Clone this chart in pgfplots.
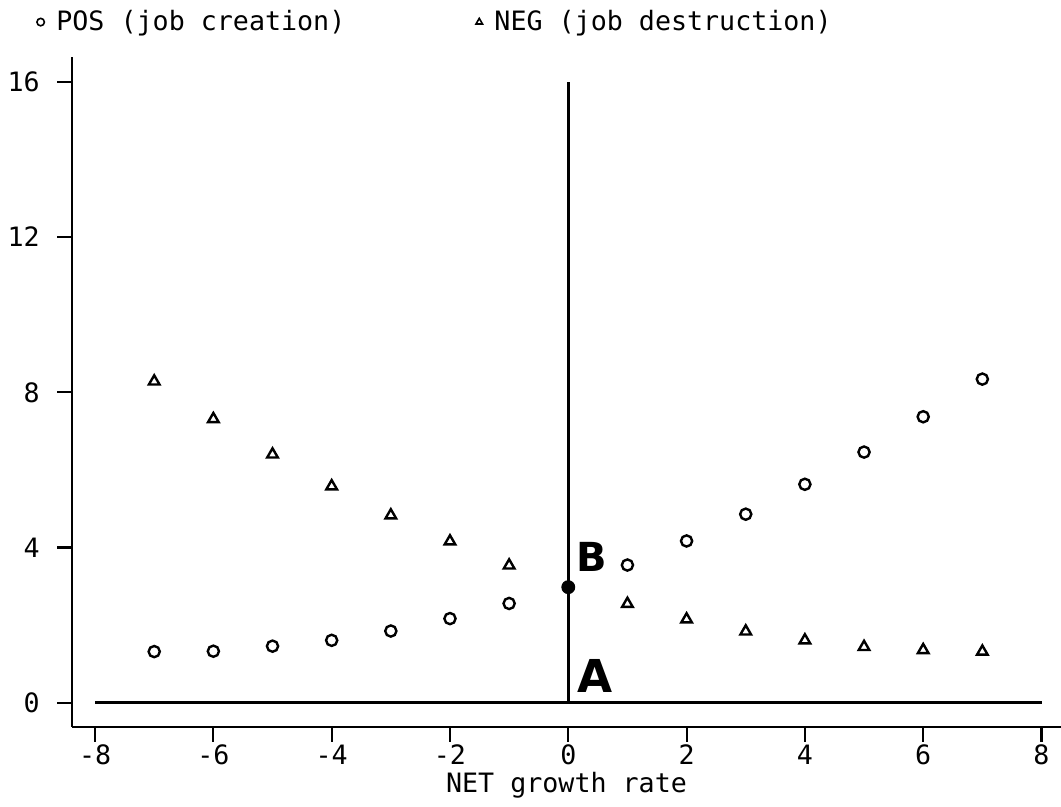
\documentclass[border=0pt]{standalone}
\usepackage{fontspec}
\setmainfont{DejaVu Sans Mono}
\newfontfamily\hand{DejaVu Sans}
\usepackage{pgfplots}
\pgfplotsset{compat=1.18}
\begin{document}
\begin{tikzpicture}
\useasboundingbox (-27pt,-30pt) rectangle (370.9pt,272.6pt);
\begin{axis}[
  at={(0pt,0pt)}, anchor=south west,
  scale only axis, width=370.9pt, height=251.25pt,
  xmin=-8.39, xmax=8.33, ymin=-0.62, ymax=16.64,
  axis lines=left, axis line style={-, line width=0.9pt},
  xtick={-8,-6,...,8}, ytick={0,4,8,12,16},
  tick align=outside, major tick length=5.6pt,
  tick style={line width=0.8pt, black},
  minor tick num=0,
  /pgf/number format/assume math mode=true,
  ticklabel style={font=\fontsize{10}{12}\selectfont},
  yticklabel style={xshift=-3pt},
  xticklabel style={yshift=2.5pt},
  xlabel={NET growth rate},
  xlabel style={font=\fontsize{10}{12}\selectfont, yshift=4pt},
  legend columns=2,
  legend cell align=left,
  legend style={at={(axis description cs:-0.036,1.052)}, anchor=west, draw=none, fill=none,
    font=\fontsize{10}{12}\selectfont, inner sep=0pt,
    /tikz/every odd column/.append style={column sep=2.5pt},
    /tikz/every even column/.append style={column sep=47pt}},
  legend image code/.code={\draw[mark size=1.4pt, line width=0.6pt] plot coordinates {(0.12cm,0cm)};},
]
\addplot[only marks, mark=o, mark size=2.1pt, line width=0.9pt] coordinates {
(-7,1.32) (-6,1.33) (-5,1.46) (-4,1.61) (-3,1.85) (-2,2.17) (-1,2.56)
(1,3.55) (2,4.17) (3,4.86) (4,5.63) (5,6.46) (6,7.37) (7,8.34)};
\addlegendentry{POS (job creation)}
\addplot[only marks, mark=triangle, mark size=2.3pt, line width=0.9pt] coordinates {
(-7,8.28) (-6,7.31) (-5,6.40) (-4,5.58) (-3,4.83) (-2,4.16) (-1,3.54)
(1,2.55) (2,2.15) (3,1.84) (4,1.61) (5,1.44) (6,1.36) (7,1.32)};
\addlegendentry{NEG (job destruction)}
\addplot[black, line width=1pt, forget plot] coordinates {(-8,0) (8,0)};
\addplot[black, line width=1pt, forget plot] coordinates {(0,0) (0,16)};
\addplot[only marks, mark=*, mark size=2.4pt, black, forget plot] coordinates {(0,2.98)};
\node[font=\hand\bfseries\fontsize{17}{17}\selectfont] at (axis cs:0.45,0.70) {A};
\node[font=\hand\bfseries\fontsize{15}{15}\selectfont] at (axis cs:0.40,3.76) {B};
\end{axis}
\end{tikzpicture}
\end{document}
